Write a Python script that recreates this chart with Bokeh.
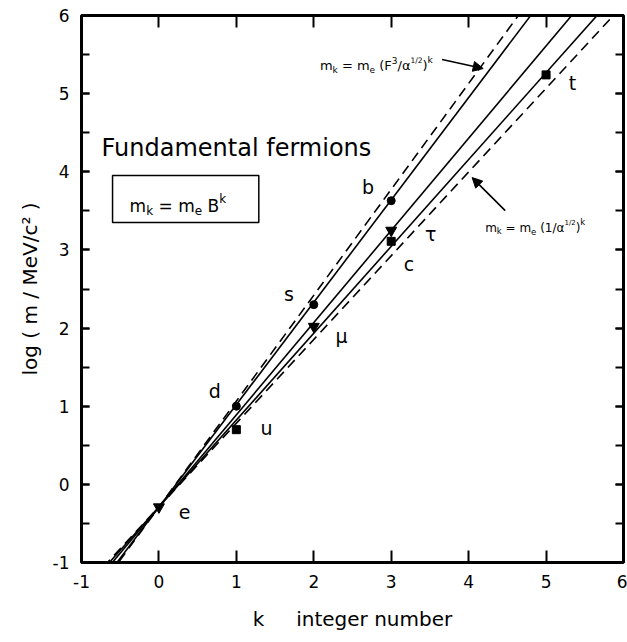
from bokeh.plotting import figure
from bokeh.models import (Range1d, LinearAxis, SingleIntervalTicker, Label,
                          BoxAnnotation, Arrow, NormalHead)
from bokeh.embed import file_html
from bokeh.resources import INLINE

# ---------------- data ----------------
k_ends = [-1, 6]                       # k at the two ends of each straight line
fit_down_quarks = [-1.60, 7.57]        # log m at k = -1 and k = 6
fit_leptons = [-1.47, 6.79]
fit_up_quarks = [-1.40, 6.38]
bound_F3_alpha = [-1.645, 7.84]        # m_k = m_e (F^3/alpha^1/2)^k
bound_inv_sqrt_alpha = [-1.36, 6.14]   # m_k = m_e (1/alpha^1/2)^k

lepton_names = ["e", "μ", "τ"]
lepton_k = [0, 2, 3]
lepton_logm = [-0.29, 2.02, 3.25]

down_names = ["d", "s", "b"]
down_k = [1, 2, 3]
down_logm = [1.00, 2.30, 3.63]

up_names = ["u", "c", "t"]
up_k = [1, 3, 5]
up_logm = [0.70, 3.11, 5.24]

tick_values = [-1, 0, 1, 2, 3, 4, 5, 6]
tick_labels = ["-1", "0", "1", "2", "3", "4", "5", "6"]

FONT = "DejaVu Sans"

p = figure(width=627, height=642, output_backend="svg", toolbar_location=None,
           x_range=Range1d(-1, 6), y_range=Range1d(-1, 6),
           x_axis_label="k\u00a0\u00a0\u00a0\u00a0\u00a0integer number",
           y_axis_label="log ( m / MeV/c² )",
           min_border_left=81, min_border_right=4, min_border_top=15, min_border_bottom=80)
p.xgrid.visible = False
p.ygrid.visible = False
p.background_fill_color = "white"
p.border_fill_color = "white"
p.outline_line_color = "black"
p.outline_line_width = 3

overrides = {v: s for v, s in zip(tick_values, tick_labels)}

def style_axis(ax, show_labels, tick_len, minor_len):
    ax.ticker = SingleIntervalTicker(interval=1, num_minor_ticks=2)
    ax.axis_line_color = None
    ax.major_tick_in = tick_len
    ax.major_tick_out = 0
    ax.minor_tick_in = minor_len
    ax.minor_tick_out = 0
    ax.major_tick_line_width = 2
    ax.minor_tick_line_width = 2
    ax.major_tick_line_color = "black"
    ax.minor_tick_line_color = "black" if minor_len > 0 else None
    if show_labels:
        ax.major_label_overrides = overrides
        ax.major_label_text_font = FONT
        ax.major_label_text_font_size = "17px"
        ax.major_label_text_color = "black"
        ax.major_label_standoff = 12
        ax.axis_label_text_font = FONT
        ax.axis_label_text_font_size = "20px"
        ax.axis_label_text_font_style = "normal"
        ax.axis_label_text_color = "black"
    else:
        ax.major_label_text_color = None
        ax.major_label_standoff = 0

style_axis(p.xaxis[0], True, 12, 0)
style_axis(p.yaxis[0], True, 8, 8)
p.xaxis[0].axis_label_standoff = 16
p.yaxis[0].axis_label_standoff = 8

top_ax = LinearAxis()
style_axis(top_ax, False, 12, 0)
p.add_layout(top_ax, "above")
right_ax = LinearAxis()
style_axis(right_ax, False, 8, 8)
p.add_layout(right_ax, "right")

# ---------------- lines ----------------
p.line(k_ends, bound_F3_alpha, line_color="black", line_width=1.6, line_dash="10 6")
p.line(k_ends, bound_inv_sqrt_alpha, line_color="black", line_width=1.6, line_dash="10 6")
p.line(k_ends, fit_down_quarks, line_color="black", line_width=1.6)
p.line(k_ends, fit_leptons, line_color="black", line_width=1.6)
p.line(k_ends, fit_up_quarks, line_color="black", line_width=1.6)

# ---------------- points ----------------
p.scatter(lepton_k, lepton_logm, marker="inverted_triangle", size=11, color="black")
p.scatter(down_k, down_logm, marker="circle", size=8, color="black")
p.scatter(up_k, up_logm, marker="square", size=8, color="black")

# ---------------- particle labels ----------------
label_pos = {"e": (0.33, -0.35), "μ": (2.36, 1.90), "τ": (3.51, 3.21),
             "d": (0.72, 1.20), "s": (1.68, 2.43), "b": (2.70, 3.80),
             "u": (1.39, 0.72), "c": (3.23, 2.82), "t": (5.34, 5.14)}
for name in lepton_names + down_names + up_names:
    lx, ly = label_pos[name]
    p.add_layout(Label(x=lx, y=ly, text=name, text_font=FONT, text_font_size="19px",
                       text_align="center", text_baseline="middle", text_color="black"))

p.add_layout(Label(x=-0.741, y=4.31, text="Fundamental fermions", text_font=FONT,
                   text_font_size="24px", text_align="left", text_baseline="alphabetic",
                   text_color="black"))

# ---------------- formulas ----------------
W = {'m': .974, 'k': .579, ' ': .318, '=': .838, 'e': .615, 'B': .686, '(': .390,
     ')': .390, 'F': .575, '3': .636, '/': .337, 'α': .659, '1': .636, '2': .636}

def formula(x, y, pieces):
    off = 0.0
    for txt, size, dy in pieces:
        if txt.strip():
            p.add_layout(Label(x=x, y=y, x_offset=off, y_offset=dy, text=txt,
                               text_font=FONT, text_font_size=f"{size}px",
                               text_align="left", text_baseline="alphabetic",
                               text_color="black"))
        off += sum(W[c] for c in txt) * size

p.add_layout(BoxAnnotation(left=-0.599, right=1.29, bottom=3.35, top=3.951,
                           fill_alpha=0, line_color="black", line_alpha=1, line_width=1.5))
formula(-0.379, 3.567, [("m", 17, 0), ("k", 12, -5), (" ", 17, 0), ("=", 17, 0), (" ", 17, 0),
                        ("m", 17, 0), ("e", 12, -5), (" ", 17, 0), ("B", 17, 0), ("k", 12, 7)])

formula(2.079, 5.36, [("m", 13, 0), ("k", 9, -4), (" ", 13, 0), ("=", 13, 0), (" ", 13, 0),
                      ("m", 13, 0), ("e", 9, -4), (" ", 13, 0), ("(", 13, 0), ("F", 13, 0),
                      ("3", 9, 5), ("/", 13, 0), ("α", 13, 0), ("1/2", 7.5, 5), (")", 13, 0),
                      ("k", 9, 6)])
formula(4.213, 3.286, [("m", 12, 0), ("k", 8.5, -3.5), (" ", 12, 0), ("=", 12, 0), (" ", 12, 0),
                       ("m", 12, 0), ("e", 8.5, -3.5), (" ", 12, 0), ("(", 12, 0), ("1", 12, 0),
                       ("/", 12, 0), ("α", 12, 0), ("1/2", 7, 5), (")", 12, 0), ("k", 8.5, 6)])

p.add_layout(Arrow(end=NormalHead(size=10, fill_color="black", line_color="black"),
                   x_start=3.657, y_start=5.437, x_end=4.188, y_end=5.321,
                   line_color="black", line_width=1.6))
p.add_layout(Arrow(end=NormalHead(size=10, fill_color="black", line_color="black"),
                   x_start=4.472, y_start=3.503, x_end=4.045, y_end=3.926,
                   line_color="black", line_width=1.6))

open("out.html", "w").write(file_html(p, INLINE))
